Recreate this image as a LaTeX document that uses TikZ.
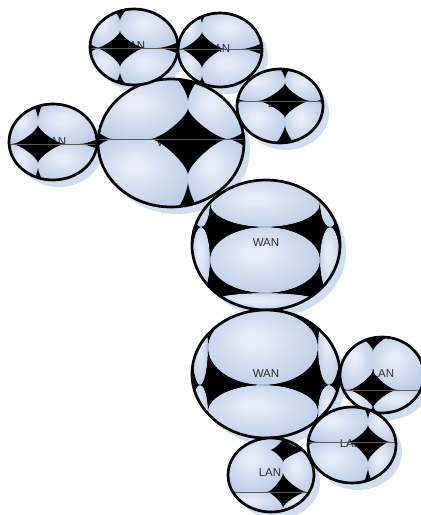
\documentclass[tikz,border=0pt]{standalone}
\usepackage{fontspec}
\setmainfont{Liberation Sans}
\definecolor{lobeHi}{RGB}{230,236,247}
\definecolor{lobeBase}{RGB}{182,199,227}
\definecolor{shadowc}{RGB}{208,220,239}
\definecolor{labelc}{RGB}{45,45,45}
\definecolor{seamc}{RGB}{90,90,90}
\pgfdeclareradialshading{lobe}{\pgfpoint{-5bp}{6bp}}{color(0bp)=(lobeHi); color(5bp)=(lobeHi); color(34bp)=(lobeBase); color(50bp)=(lobeBase)}
\tikzset{
  lbl/.style={font=\fontsize{11.5}{13}\selectfont, text=labelc, inner sep=0pt},
  rim/.style={draw=black, line width=2.7pt},
  seam/.style={draw=seamc, line width=0.5pt}
}
% shadow: cx cy rx ry
\newcommand\cloudshadow[4]{\fill[shadowc] ({#1+6},{#2+7}) ellipse [x radius=#3pt, y radius=#4pt];}
% --- elliptic-lobe clouds (WANs in the middle) ---
\newcommand\cloudbase[5]{%
  \begin{scope}
    \clip (#1,#2) ellipse [x radius=#3pt, y radius=#4pt];
    \fill[black] (#1,#2) ellipse [x radius=#3pt, y radius=#4pt];
    \foreach \xa/\ya/\xb/\yb in #5 {
      \shade[shading=lobe] ({(\xa+\xb)/2},{(\ya+\yb)/2}) ellipse [x radius={(\xb-\xa)/2*1pt}, y radius={(\yb-\ya)/2*1pt}];
    }
  \end{scope}}
\newcommand\cloudtop[6]{%
  \begin{scope}
    \clip (#1,#2) ellipse [x radius=#3pt, y radius=#4pt];
    \fill[black, even odd rule] ({#1-#3-5},{#2-#4-5}) rectangle ({#1+#3+5},{#2+#4+5})
      foreach \xa/\ya/\xb/\yb in #5 {
        ({(\xa+\xb)/2},{(\ya+\yb)/2}) ellipse [x radius={(\xb-\xa)/2*1pt}, y radius={(\yb-\ya)/2*1pt}]
      };
    \draw[seam] ({#1-#3-5},#6) -- ({#1+#3+5},#6);
  \end{scope}
  \draw[rim] (#1,#2) ellipse [x radius=#3pt, y radius=#4pt];}
% --- cell-and-star clouds ---
\newcommand\cloudcells[5]{%
  \begin{scope}
    \clip (#1,#2) ellipse [x radius=#3pt, y radius=#4pt];
    \fill[lobeBase] (#1,#2) ellipse [x radius=#3pt, y radius=#4pt];
    \foreach \xa/\ya/\xb/\yb in #5 {
      \shade[shading=lobe] (\xa,\ya) rectangle (\xb,\yb);
    }
  \end{scope}}
% stars: x/y/right/up/left/down
\newcommand\cloudstars[6]{%
  \begin{scope}
    \clip (#1,#2) ellipse [x radius=#3pt, y radius=#4pt];
    \foreach \sx/\sy/\sr/\su/\sl/\sd in #5 {
      \fill[black] ({\sx+\sr},\sy)
        .. controls ({\sx+0.72*\sr},\sy) and (\sx,{\sy-0.72*\su}) .. (\sx,{\sy-\su})
        .. controls (\sx,{\sy-0.72*\su}) and ({\sx-0.72*\sl},\sy) .. ({\sx-\sl},\sy)
        .. controls ({\sx-0.72*\sl},\sy) and (\sx,{\sy+0.72*\sd}) .. (\sx,{\sy+\sd})
        .. controls (\sx,{\sy+0.72*\sd}) and ({\sx+0.72*\sr},\sy) .. cycle;
    }
    \draw[seam] ({#1-#3-5},#6) -- ({#1+#3+5},#6);
  \end{scope}
  \draw[rim] (#1,#2) ellipse [x radius=#3pt, y radius=#4pt];}
\begin{document}
\begin{tikzpicture}[x=1pt,y=-1pt]
\useasboundingbox (0,0) rectangle (421,515);
\fill[white] (0,0) rectangle (421,515);
% shadows
\cloudshadow{134}{47}{44}{38}
\cloudshadow{220}{50}{42}{37}
\cloudshadow{280}{106}{43}{37}
\cloudshadow{53}{142}{44}{38}
\cloudshadow{171}{143}{73}{64}
\cloudshadow{266}{245}{74}{65}
\cloudshadow{266}{374}{74}{64}
\cloudshadow{382}{375}{42}{38}
\cloudshadow{352}{445}{44}{38}
\cloudshadow{271}{475}{43}{37}
% middle WAN
\def\cellsA{192/180/210/227,192/227/210/293,192/293/210/310,210/180/320/227,210/227/320/293,210/293/320/310,320/180/340/227,320/227/340/293,320/293/340/310}
\cloudbase{266}{245}{74}{65}{\cellsA}
\node[lbl] (wan2) at (266,243) {WAN};
\cloudtop{266}{245}{74}{65}{\cellsA}{-50}
% lower WAN
\def\cellsB{192/310/208/385,192/385/208/438,208/310/318/385,208/385/318/438,318/310/340/385,318/385/340/438}
\cloudbase{266}{374}{74}{64}{\cellsB}
\node[lbl] (wan3) at (266,374) {WAN};
\cloudtop{266}{374}{74}{64}{\cellsB}{-50}
% top WAN
\def\cellsC{98/79/188/139,98/139/188/207,188/79/244/139,188/139/244/207}
\def\starsC{188/139/40/31/38/36,188/79/12/2/12/22,188/208/11/26/11/2,97/139/15/9/2/9,245/139/2/9/17/9}
\cloudcells{171}{143}{73}{64}{\cellsC}
\node[lbl] (wan1) at (170,143) {WAN};
\cloudstars{171}{143}{73}{64}{\starsC}{139}
% top-left LAN
\def\cellsD{90/9/120/48,90/48/120/85,120/9/178/48,120/48/178/85}
\def\starsD{120/48/25/17/24/19,120/8/9/2/9/13,120/86/8/13/8/2,179/48/2/7/21/7,89/48/10/6/2/6}
\cloudcells{134}{47}{44}{38}{\cellsD}
\node[lbl] (lan1) at (134,46) {LAN};
\cloudstars{134}{47}{44}{38}{\starsD}{48}
% second top LAN
\def\cellsE{178/13/202/49,178/49/202/87,202/13/262/49,202/49/262/87}
\def\starsE{202/49/23/17/22/19,202/12/7/2/7/11,202/88/7/12/7/2,263/49/2/7/21/7}
\cloudcells{220}{50}{42}{37}{\cellsE}
\node[lbl] (lan2) at (219,49) {LAN};
\cloudstars{220}{50}{42}{37}{\starsE}{49}
% third LAN
\def\cellsF{237/69/285/101,237/101/285/143,285/69/323/101,285/101/323/143}
\def\starsF{285/101/25/18/27/17,285/68/6/2/6/11,285/144/11/19/11/2,236/101/10/3/2/3,324/101/2/4/7/4}
\cloudcells{280}{106}{43}{37}{\cellsF}
\node[lbl] (lan3) at (279,104) {LAN};
\cloudstars{280}{106}{43}{37}{\starsF}{101}
% left LAN
\def\cellsG{9/104/38/144,9/144/38/180,38/104/97/144,38/144/97/180}
\def\starsG{38/144/27/19/26/19,38/103/6/2/6/16,38/181/6/13/6/2,98/144/2/6/18/6}
\cloudcells{53}{142}{44}{38}{\cellsG}
\node[lbl] (lan4) at (55,142) {LAN};
\cloudstars{53}{142}{44}{38}{\starsG}{144}
% right lower LAN
\def\cellsH{340/337/373/390,340/390/373/413,373/337/424/390,373/390/424/413}
\def\starsH{373/390/24/20/25/18,373/337/16/2/14/14,339/390/9/3/2/3,373/414/8/8/8/2}
\cloudcells{382}{375}{42}{38}{\cellsH}
\node[lbl] (lan5) at (383,374) {LAN};
\cloudstars{382}{375}{42}{38}{\starsH}{390}
% lower-middle LAN
\def\cellsI{308/407/368/442,308/442/368/483,368/407/396/442,368/442/396/483}
\def\starsI{368/442/22/17/20/20,368/406/6/2/6/13,368/484/6/16/6/2,307/442/10/4/2/4}
\cloudcells{352}{445}{44}{38}{\cellsI}
\node[lbl] (lan6) at (351,444) {LAN};
\cloudstars{352}{445}{44}{38}{\starsI}{442}
% bottom LAN
\def\cellsJ{228/438/283/492,228/492/283/512,283/438/314/450,283/450/314/492,283/492/314/512}
\def\starsJ{283/450/24/12/13/12,283/492/24/19/16/16,227/492/10/3/2/3}
\cloudcells{271}{475}{43}{37}{\cellsJ}
\node[lbl] (lan7) at (270,473) {LAN};
\cloudstars{271}{475}{43}{37}{\starsJ}{492}
\end{tikzpicture}
\end{document}
